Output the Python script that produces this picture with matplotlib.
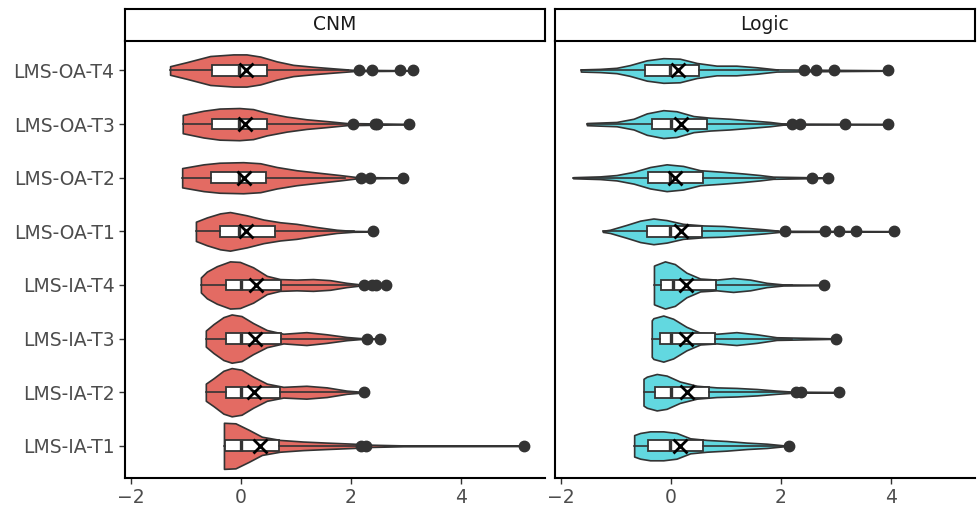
import numpy as np
import matplotlib.pyplot as plt

# categorias (de baixo para cima)
categories = ["LMS-IA-T1", "LMS-IA-T2", "LMS-IA-T3", "LMS-IA-T4",
              "LMS-OA-T1", "LMS-OA-T2", "LMS-OA-T3", "LMS-OA-T4"]
panels = ["CNM", "Logic"]

# ---- CNM ----
cnm_q1 = [-0.30, -0.28, -0.28, -0.28, -0.38, -0.55, -0.53, -0.53]
cnm_median = [0.0, 0.0, 0.0, 0.0, -0.03, -0.03, -0.03, -0.03]
cnm_q3 = [0.70, 0.71, 0.73, 0.72, 0.62, 0.45, 0.47, 0.47]
cnm_mean = [0.35, 0.24, 0.25, 0.27, 0.10, 0.05, 0.08, 0.09]
cnm_whis_hi = [2.10, 2.10, 2.15, 2.10, 2.05, 1.90, 1.92, 1.95]
cnm_outliers = [
    [2.19, 2.27, 5.15],
    [2.24],
    [2.30, 2.53],
    [2.24, 2.39, 2.45, 2.63],
    [2.41],
    [2.18, 2.35, 2.95],
    [2.03, 2.44, 2.48, 3.06],
    [2.14, 2.39, 2.89, 3.13],
]
# contorno do violino: posições x e meia-largura
cnm_violin_x = [
    [-0.31, -0.10, 0.14, 0.38, 0.71, 1.13, 1.56, 2.04, 2.40, 2.95, 5.15],
    [-0.64, -0.50, -0.32, -0.17, 0.01, 0.22, 0.47, 0.77, 1.19, 1.56, 1.92, 2.24],
    [-0.64, -0.50, -0.32, -0.17, 0.01, 0.22, 0.47, 0.77, 1.19, 1.56, 1.92, 2.16, 2.53],
    [-0.73, -0.62, -0.44, -0.20, -0.02, 0.22, 0.47, 0.71, 1.01, 1.31, 1.62, 1.92, 2.16, 2.63],
    [-0.82, -0.62, -0.38, -0.20, 0.10, 0.41, 0.71, 1.01, 1.38, 1.74, 2.04, 2.41],
    [-1.07, -0.68, -0.39, 0.04, 0.35, 0.65, 1.01, 1.44, 1.80, 2.10, 2.95],
    [-1.06, -0.68, -0.39, -0.03, 0.22, 0.47, 0.83, 1.19, 1.56, 1.92, 3.06],
    [-1.29, -0.99, -0.56, -0.14, 0.10, 0.35, 0.65, 0.95, 1.31, 1.68, 2.04, 3.13],
]
cnm_violin_w = [
    [0.43, 0.42, 0.30, 0.17, 0.11, 0.08, 0.06, 0.04, 0.02, 0.008, 0.004],
    [0.16, 0.26, 0.40, 0.45, 0.42, 0.29, 0.16, 0.10, 0.12, 0.09, 0.03, 0.004],
    [0.15, 0.27, 0.40, 0.45, 0.42, 0.29, 0.16, 0.09, 0.12, 0.08, 0.03, 0.01, 0.004],
    [0.14, 0.25, 0.35, 0.44, 0.43, 0.33, 0.17, 0.11, 0.10, 0.11, 0.09, 0.04, 0.012, 0.004],
    [0.18, 0.26, 0.335, 0.36, 0.30, 0.22, 0.17, 0.14, 0.08, 0.03, 0.008, 0.004],
    [0.18, 0.25, 0.28, 0.29, 0.27, 0.20, 0.14, 0.09, 0.05, 0.013, 0.004],
    [0.17, 0.25, 0.29, 0.30, 0.28, 0.21, 0.14, 0.09, 0.056, 0.02, 0.004],
    [0.08, 0.155, 0.27, 0.30, 0.30, 0.26, 0.17, 0.105, 0.07, 0.04, 0.012, 0.004],
]

# ---- Logic ----
logic_q1 = [-0.42, -0.30, -0.20, -0.18, -0.44, -0.41, -0.35, -0.47]
logic_median = [-0.02, 0.0, 0.0, 0.03, -0.02, -0.02, 0.0, -0.02]
logic_q3 = [0.58, 0.69, 0.80, 0.81, 0.56, 0.59, 0.65, 0.51]
logic_mean = [0.16, 0.30, 0.27, 0.27, 0.19, 0.08, 0.19, 0.13]
logic_whis_hi = [2.05, 2.15, 2.20, 2.20, 1.95, 1.90, 2.10, 1.95]
logic_outliers = [
    [2.15],
    [2.27, 2.36, 3.06],
    [3.00],
    [2.79],
    [2.07, 2.80, 3.05, 3.36, 4.05],
    [2.56, 2.85],
    [2.21, 2.35, 3.17, 3.95],
    [2.42, 2.63, 2.96, 3.95],
]
logic_violin_x = [
    [-0.67, -0.56, -0.38, -0.14, 0.10, 0.35, 0.65, 1.01, 1.38, 1.74, 2.04, 2.15],
    [-0.50, -0.44, -0.26, -0.08, 0.16, 0.47, 0.83, 1.19, 1.56, 1.92, 2.22, 3.06],
    [-0.35, -0.32, -0.14, 0.04, 0.28, 0.53, 0.83, 1.19, 1.56, 1.92, 3.00],
    [-0.31, -0.29, -0.11, 0.07, 0.28, 0.53, 0.83, 1.13, 1.44, 1.74, 2.04, 2.79],
    [-1.24, -1.11, -0.81, -0.56, -0.32, -0.08, 0.22, 0.59, 0.95, 1.31, 1.68, 1.98, 4.05],
    [-1.78, -1.29, -0.99, -0.68, -0.38, -0.08, 0.22, 0.53, 0.95, 1.31, 1.62, 1.86, 2.85],
    [-1.53, -0.99, -0.68, -0.44, -0.14, 0.10, 0.41, 0.71, 1.07, 1.44, 1.80, 2.04, 3.95],
    [-1.64, -1.29, -0.99, -0.75, -0.44, -0.14, 0.16, 0.47, 0.83, 1.19, 1.56, 1.92, 3.95],
]
logic_violin_w = [
    [0.20, 0.24, 0.27, 0.27, 0.24, 0.14, 0.11, 0.09, 0.06, 0.04, 0.01, 0.004],
    [0.25, 0.29, 0.34, 0.31, 0.20, 0.12, 0.09, 0.08, 0.06, 0.03, 0.01, 0.004],
    [0.34, 0.38, 0.43, 0.37, 0.22, 0.11, 0.09, 0.12, 0.08, 0.025, 0.004],
    [0.36, 0.37, 0.44, 0.39, 0.23, 0.12, 0.10, 0.13, 0.10, 0.04, 0.01, 0.004],
    [0.01, 0.03, 0.12, 0.20, 0.24, 0.21, 0.14, 0.11, 0.10, 0.07, 0.04, 0.01, 0.004],
    [0.01, 0.025, 0.05, 0.11, 0.20, 0.25, 0.22, 0.14, 0.11, 0.08, 0.05, 0.02, 0.004],
    [0.02, 0.04, 0.10, 0.20, 0.26, 0.24, 0.15, 0.12, 0.10, 0.07, 0.04, 0.01, 0.004],
    [0.02, 0.03, 0.05, 0.10, 0.19, 0.23, 0.22, 0.14, 0.09, 0.09, 0.06, 0.02, 0.004],
]

colors = {"CNM": "#E36B63", "Logic": "#62D8E0"}
edge = "#333333"

panel_data = {
    "CNM": (cnm_q1, cnm_median, cnm_q3, cnm_mean, cnm_whis_hi, cnm_outliers,
            cnm_violin_x, cnm_violin_w),
    "Logic": (logic_q1, logic_median, logic_q3, logic_mean, logic_whis_hi,
              logic_outliers, logic_violin_x, logic_violin_w),
}

fig = plt.figure(figsize=(9.78, 5.09), dpi=100)
ax_left = [125 / 978, 555 / 978]
ax_w = 420 / 978
ax_b = 1 - 478 / 509
ax_h = (478 - 41) / 509

pos = np.arange(1, len(categories) + 1)

for i, name in enumerate(panels):
    ax = fig.add_axes([ax_left[i], ax_b, ax_w, ax_h])
    q1, med, q3, mean, whi, outl, vx, vw = panel_data[name]

    # violinos
    for k in range(len(categories)):
        x = np.array(vx[k])
        w = np.array(vw[k])
        ax.fill_between(x, pos[k] - w, pos[k] + w, facecolor=colors[name],
                        edgecolor=edge, linewidth=1.2, zorder=2)

    # boxplots
    stats = []
    for k in range(len(categories)):
        stats.append(dict(med=med[k], q1=q1[k], q3=q3[k], whislo=vx[k][0],
                          whishi=whi[k], mean=mean[k], fliers=outl[k]))
    ax.bxp(stats, positions=pos, widths=0.2, orientation="horizontal",
           patch_artist=True, showmeans=True, showcaps=False,
           boxprops=dict(facecolor="white", edgecolor=edge, linewidth=1.3),
           medianprops=dict(color=edge, linewidth=2.4),
           whiskerprops=dict(color=edge, linewidth=1.2),
           meanprops=dict(marker="x", markeredgecolor="black", markersize=9.5,
                          markeredgewidth=2.0),
           flierprops=dict(marker="o", markerfacecolor=edge, markeredgecolor=edge,
                           markersize=7.5),
           zorder=3)

    ax.set_xlim(-2.11, 5.53)
    ax.set_ylim(0.4, 8.55)
    ax.set_xticks([-2, 0, 2, 4])
    ax.set_xticklabels(["\u22122", "0", "2", "4"])
    ax.set_yticks(pos)
    if i == 0:
        ax.set_yticklabels(categories)
        ax.tick_params(axis="y", length=4, width=1, color=edge)
    else:
        ax.set_yticklabels([])
        ax.tick_params(axis="y", length=0)
    ax.tick_params(axis="x", length=4, width=1, color=edge)
    ax.tick_params(labelsize=13.5, labelcolor="#4d4d4d")
    for s in ["top", "right"]:
        ax.spines[s].set_visible(False)
    for s in ["left", "bottom"]:
        ax.spines[s].set_linewidth(1.5)
        ax.spines[s].set_color("black")

    # faixa do painel
    strip = fig.add_axes([ax_left[i], 1 - 41 / 509, ax_w, 32 / 509])
    strip.set_xticks([])
    strip.set_yticks([])
    for s in strip.spines.values():
        s.set_linewidth(1.5)
        s.set_color("black")
    strip.text(0.5, 0.5, name, ha="center", va="center", fontsize=13.5,
               color="#1a1a1a", transform=strip.transAxes)

fig.savefig("out.png", dpi=100)
